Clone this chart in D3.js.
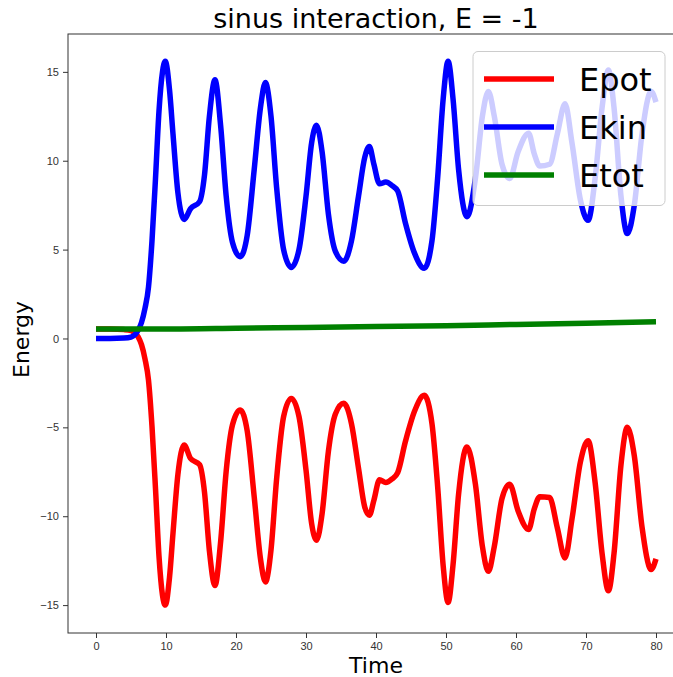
<!DOCTYPE html>
<html>
<head>
<meta charset="utf-8">
<script src="https://cdn.jsdelivr.net/npm/d3@7"></script>
<style>
  body { margin: 0; background: #fff; }
  svg { display: block; font-family: "DejaVu Sans", sans-serif; }
</style>
</head>
<body>
<div id="chart"></div>
<script>
// time samples
const time = [0, 2, 4, 5, 6, 6.5, 7, 7.5, 8, 8.5, 9, 9.5, 9.9, 10.5, 11, 11.7, 12.6, 13.5, 14.8, 15.5,
  16.2, 17.0, 17.8, 18.6, 19.5, 20.6, 21.6, 22.6, 23.5, 24.2, 25.0, 25.8, 26.8, 27.9, 29.0, 30.0,
  30.8, 31.5, 32.3, 33.2, 34.2, 35.4, 36.5, 37.5, 38.4, 39.05, 39.7, 40.5, 41.4, 42.3, 43.1, 44.2,
  45.5, 46.9, 48.0, 48.8, 49.6, 50.3, 51.0, 51.8, 53.0, 54.2, 55.2, 56.05, 56.9, 58.0, 59.1, 60.3,
  61.8, 62.6, 63.4, 64.8, 65.9, 67.0, 68.0, 69.2, 70.3, 71.3, 72.3, 73.2, 74.0, 75.0, 75.9, 76.9,
  78.0, 79.3, 80];

const ekin = [0, 0, 0.02, 0.08, 0.45, 0.9, 1.7, 2.9, 5.5, 9.0, 12.8, 15.0, 15.6, 14.0, 11.5, 8.2, 6.7, 7.3, 7.7, 9.2,
  12.5, 14.55, 12.0, 8.0, 5.4, 4.6, 5.8, 9.5, 13.0, 14.4, 12.5, 8.5, 5.0, 4.0, 5.0, 8.0,
  11.0, 12.0, 10.5, 7.0, 4.9, 4.35, 5.5, 8.0, 10.2, 10.8, 9.8, 8.7, 8.8, 8.6, 8.3, 6.5,
  4.8, 3.95, 5.5, 9.0, 13.5, 15.6, 13.5, 9.5, 6.85, 9.0, 12.5, 13.9, 12.5, 9.8, 9.0, 10.5,
  11.55, 10.4, 9.7, 9.8, 11.5, 13.2, 11.0, 7.8, 6.65, 9.0, 13.0, 15.1, 13.0, 8.0, 5.9, 7.5,
  11.5, 13.9, 13.3];

const epot = [0.53, 0.53, 0.5, 0.45, 0.1, -0.35, -1.15, -2.35, -4.95, -8.45, -12.25, -14.45, -15.0, -13.45, -10.95, -7.65, -6.0, -6.75, -7.1, -8.65,
  -11.95, -13.9, -11.45, -7.45, -4.85, -4.02, -5.2, -8.9, -12.4, -13.7, -11.9, -7.9, -4.4, -3.37, -4.4, -7.4,
  -10.4, -11.35, -9.85, -6.35, -4.25, -3.65, -4.8, -7.3, -9.5, -9.95, -9.1, -7.95, -8.1, -7.9, -7.55, -5.8,
  -4.1, -3.2, -4.8, -8.3, -12.8, -14.85, -12.75, -8.75, -6.1, -8.2, -11.7, -13.1, -11.7, -9.0, -8.2, -9.7,
  -10.75, -9.6, -8.9, -8.95, -10.65, -12.35, -10.15, -6.95, -5.75, -8.1, -12.1, -14.2, -12.1, -7.1, -5.0, -6.6,
  -10.6, -13.0, -12.4];

const etotTime = [0, 10, 20, 30, 40, 50, 60, 70, 80];
const etot = [0.53, 0.53, 0.57, 0.62, 0.67, 0.72, 0.79, 0.86, 0.94];

const xTicks = [0, 10, 20, 30, 40, 50, 60, 70, 80];
const yTicks = [-15, -10, -5, 0, 5, 10, 15];
const seriesNames = ["Epot", "Ekin", "Etot"];
const seriesColors = ["#ff0000", "#0000ff", "#008000"];

const W = 673, H = 677;
const margin = { top: 34, left: 68 };
const plotW = 616, plotH = 599;

const svg = d3.select("#chart").append("svg")
  .attr("width", W).attr("height", H);

const x = d3.scaleLinear().domain([-4, 84]).range([margin.left, margin.left + plotW]);
const y = d3.scaleLinear().domain([-16.57, 17.13]).range([margin.top + plotH, margin.top]);

// axes
const xAxis = svg.append("g")
  .attr("transform", `translate(0,${margin.top + plotH})`)
  .call(d3.axisBottom(x).tickValues(xTicks).tickSize(5).tickPadding(4));
const yAxis = svg.append("g")
  .attr("transform", `translate(${margin.left},0)`)
  .call(d3.axisLeft(y).tickValues(yTicks).tickSize(5).tickPadding(4)
    .tickFormat(d => d < 0 ? "\u2212" + Math.abs(d) : d));

[xAxis, yAxis].forEach(g => {
  g.selectAll("text").style("font-size", "11px").attr("fill", "#333");
  g.selectAll("line").attr("stroke", "#333");
  g.select(".domain").remove();
});

// spines
svg.append("rect")
  .attr("x", margin.left).attr("y", margin.top)
  .attr("width", plotW).attr("height", plotH)
  .attr("fill", "none").attr("stroke", "#333").attr("stroke-width", 1);

// lines
const line = d3.line().curve(d3.curveMonotoneX);
const series = [
  time.map((t, i) => [x(t), y(epot[i])]),
  time.map((t, i) => [x(t), y(ekin[i])]),
  etotTime.map((t, i) => [x(t), y(etot[i])])
];
series.forEach((pts, i) => {
  svg.append("path")
    .attr("d", line(pts))
    .attr("fill", "none")
    .attr("stroke", seriesColors[i])
    .attr("stroke-width", 5.5)
    .attr("stroke-linejoin", "round");
});

// title and labels
svg.append("text")
  .attr("x", x(40)).attr("y", 28)
  .attr("text-anchor", "middle")
  .style("font-size", "27px")
  .text("sinus interaction, E = -1");

svg.append("text")
  .attr("x", x(40)).attr("y", 673)
  .attr("text-anchor", "middle")
  .style("font-size", "22px")
  .text("Time");

svg.append("text")
  .attr("transform", `translate(29,${y(0) + 1}) rotate(-90)`)
  .attr("text-anchor", "middle")
  .style("font-size", "22px")
  .text("Energy");

// legend
const legend = svg.append("g");
legend.append("rect")
  .attr("x", 473).attr("y", 51.5)
  .attr("width", 192).attr("height", 154)
  .attr("rx", 5)
  .attr("fill", "#fff").attr("fill-opacity", 0.8)
  .attr("stroke", "#cccccc").attr("stroke-width", 1);

seriesNames.forEach((name, i) => {
  const ly = 79 + i * 48;
  legend.append("line")
    .attr("x1", 484).attr("x2", 554)
    .attr("y1", ly).attr("y2", ly)
    .attr("stroke", seriesColors[i]).attr("stroke-width", 5.5);
  legend.append("text")
    .attr("x", 579).attr("y", ly + 12)
    .style("font-size", "32px")
    .text(name);
});
</script>
</body>
</html>
